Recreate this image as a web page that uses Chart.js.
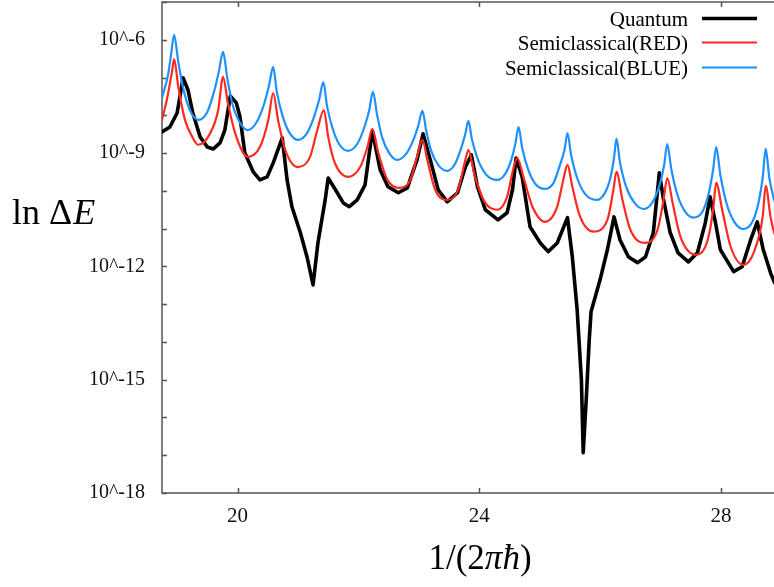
<!DOCTYPE html>
<html lang="en">
<head>
<meta charset="UTF-8">
<title>Energy splitting</title>
<script src="https://cdn.jsdelivr.net/npm/chart.js"></script>
<style>
    html, body { margin: 0; padding: 0; background: #fff; overflow: hidden; }
    canvas { display: block; }
</style>
</head>
<body>
<canvas id="chart" width="800" height="587"></canvas>
<script>
// x = 1/(2 pi hbar), y = log10 of the splitting
const quantumX = [18.75, 18.88, 19.00, 19.10, 19.18, 19.26, 19.38, 19.50, 19.60, 19.71, 19.79, 19.88, 19.98, 20.04, 20.12, 20.26, 20.37, 20.49, 20.59, 20.74,
    20.82, 20.90, 21.04, 21.15, 21.25, 21.33, 21.45, 21.50, 21.62, 21.75, 21.85, 21.98, 22.11, 22.23, 22.36, 22.49, 22.66, 22.81, 22.97, 23.07,
    23.19, 23.32, 23.47, 23.64, 23.77, 23.87, 23.97, 24.10, 24.31, 24.46, 24.55, 24.61, 24.71, 24.84, 25.01, 25.14, 25.29, 25.46, 25.54, 25.62,
    25.69, 25.72, 25.77, 25.82, 25.85, 26.00, 26.12, 26.23, 26.33, 26.47, 26.62, 26.75, 26.88, 26.98, 27.05, 27.16, 27.29, 27.46, 27.61, 27.74,
    27.82, 27.91, 27.99, 28.21, 28.35, 28.49, 28.60, 28.70, 28.82, 28.88, 28.98];
const quantumY = [-8.44, -8.31, -7.94, -7.01, -7.33, -7.94, -8.57, -8.84, -8.89, -8.73, -8.39, -7.49, -7.67, -8.04, -8.99, -9.50, -9.71, -9.63, -9.26, -8.60,
    -9.71, -10.42, -11.11, -11.75, -12.49, -11.38, -10.24, -9.66, -9.97, -10.32, -10.42, -10.24, -9.84, -8.41, -9.44, -9.89, -10.05, -9.92, -9.18, -8.49,
    -9.18, -9.97, -10.29, -10.05, -9.37, -9.05, -9.89, -10.50, -10.77, -10.58, -9.97, -9.13, -9.63, -10.95, -11.38, -11.61, -11.38, -10.71, -11.75, -13.15,
    -15.00, -16.93, -15.53, -13.94, -13.20, -12.35, -11.56, -10.69, -11.30, -11.75, -11.90, -11.75, -11.11, -9.52, -10.24, -11.11, -11.64, -11.88, -11.64, -10.85,
    -10.16, -10.85, -11.56, -12.14, -12.01, -11.30, -10.82, -11.56, -12.17, -12.41, -12.67];

const redX = [18.75, 18.83, 18.92, 18.95, 19.02, 19.13, 19.25, 19.35, 19.55, 19.68, 19.76, 19.84, 19.96, 20.17, 20.37, 20.51, 20.59, 20.67, 20.79, 21.00,
    21.20, 21.32, 21.43, 21.50, 21.61, 21.83, 22.03, 22.15, 22.23, 22.33, 22.48, 22.67, 22.86, 22.97, 23.06, 23.14, 23.27, 23.47, 23.65, 23.77,
    23.82, 23.93, 24.10, 24.30, 24.46, 24.56, 24.63, 24.73, 24.88, 25.09, 25.29, 25.39, 25.46, 25.54, 25.67, 25.89, 26.12, 26.22, 26.27, 26.37,
    26.50, 26.75, 26.95, 27.05, 27.11, 27.20, 27.33, 27.58, 27.78, 27.87, 27.92, 28.02, 28.16, 28.37, 28.54, 28.69, 28.74, 28.82, 28.88, 28.98];
const redY = [-8.12, -7.59, -6.80, -6.51, -7.25, -8.12, -8.57, -8.78, -8.47, -7.86, -6.98, -7.67, -8.47, -9.10, -8.84, -8.12, -7.41, -8.12, -8.92, -9.37,
    -9.10, -8.39, -7.86, -8.57, -9.26, -9.63, -9.37, -8.84, -8.36, -9.00, -9.71, -9.92, -9.71, -9.10, -8.65, -9.18, -9.97, -10.24, -9.97, -9.18,
    -8.92, -9.63, -10.32, -10.50, -10.16, -9.44, -9.13, -9.63, -10.42, -10.82, -10.42, -9.71, -9.31, -9.89, -10.69, -11.08, -10.77, -9.97, -9.50, -10.24,
    -11.03, -11.38, -11.03, -10.24, -9.66, -10.32, -11.22, -11.69, -11.30, -10.50, -9.79, -10.50, -11.48, -11.96, -11.64, -10.69, -9.87, -10.69, -11.11, -11.51];

const blueX = [18.75, 18.85, 18.90, 18.95, 19.02, 19.10, 19.21, 19.35, 19.50, 19.61, 19.69, 19.76, 19.83, 19.91, 20.03, 20.17, 20.32, 20.44, 20.52, 20.59,
    20.65, 20.74, 20.85, 21.00, 21.15, 21.27, 21.35, 21.42, 21.48, 21.57, 21.68, 21.83, 21.98, 22.10, 22.18, 22.24, 22.31, 22.39, 22.51, 22.64,
    22.79, 22.91, 22.99, 23.06, 23.12, 23.20, 23.32, 23.47, 23.59, 23.69, 23.77, 23.82, 23.88, 23.98, 24.12, 24.30, 24.43, 24.53, 24.60, 24.65,
    24.71, 24.81, 24.93, 25.09, 25.23, 25.32, 25.41, 25.46, 25.52, 25.62, 25.75, 25.94, 26.07, 26.17, 26.23, 26.27, 26.33, 26.43, 26.57, 26.72,
    26.86, 26.98, 27.06, 27.11, 27.18, 27.28, 27.41, 27.54, 27.69, 27.79, 27.87, 27.92, 27.99, 28.09, 28.22, 28.37, 28.52, 28.62, 28.69, 28.74,
    28.80, 28.88, 28.98];
const blueY = [-7.54, -6.93, -6.40, -5.87, -6.59, -7.28, -7.86, -8.12, -7.91, -7.38, -6.85, -6.32, -7.01, -7.67, -8.17, -8.39, -8.17, -7.70, -7.22, -6.72,
    -7.38, -7.99, -8.44, -8.65, -8.47, -8.02, -7.59, -7.12, -7.75, -8.33, -8.76, -8.94, -8.76, -8.31, -7.86, -7.38, -7.99, -8.57, -9.00, -9.18,
    -9.02, -8.65, -8.28, -7.88, -8.39, -8.92, -9.31, -9.47, -9.31, -8.92, -8.49, -8.15, -8.65, -9.18, -9.58, -9.71, -9.55, -9.18, -8.73, -8.31,
    -8.86, -9.44, -9.82, -9.95, -9.79, -9.39, -8.92, -8.47, -9.05, -9.66, -10.08, -10.24, -10.08, -9.66, -9.13, -8.62, -9.26, -9.89, -10.32, -10.48,
    -10.32, -9.87, -9.31, -8.76, -9.44, -10.11, -10.56, -10.71, -10.56, -10.11, -9.44, -8.84, -9.58, -10.32, -10.82, -11.01, -10.82, -10.32, -9.66, -8.89,
    -9.66, -10.24, -10.64];

const xTicks = [20, 24, 28];
const seriesNames = ['Quantum', 'Semiclassical(RED)', 'Semiclassical(BLUE)'];
const seriesColors = ['#000000', '#ff2a1f', '#1e90ff'];
const seriesWidths = [3.6, 2.2, 2.2];

const serif = '"Liberation Serif", "DejaVu Serif", serif';

function pts(xs, ys) {
    return xs.map((x, i) => ({x: x, y: ys[i]}));
}

// frame with inward ticks on all four sides, legend and axis titles
const framePlugin = {
    id: 'frame',
    beforeDatasetsDraw(chart) {
        const ctx = chart.ctx;
        const a = chart.chartArea;
        const xs = chart.scales.x, ys = chart.scales.y;
        ctx.save();
        ctx.strokeStyle = '#555';
        ctx.lineWidth = 1.5;
        ctx.strokeRect(a.left, a.top, a.right - a.left, a.bottom - a.top);
        ctx.beginPath();
        xs.ticks.forEach(t => {
            const px = Math.round(xs.getPixelForValue(t.value)) + 0.5;
            ctx.moveTo(px, a.bottom); ctx.lineTo(px, a.bottom - 5);
            ctx.moveTo(px, a.top); ctx.lineTo(px, a.top + 5);
        });
        ys.ticks.forEach(t => {
            const py = Math.round(ys.getPixelForValue(t.value)) + 0.5;
            ctx.moveTo(a.left, py); ctx.lineTo(a.left + 5, py);
            ctx.moveTo(a.right, py); ctx.lineTo(a.right - 5, py);
        });
        ctx.stroke();
        ctx.restore();
    },
    afterDraw(chart) {
        const ctx = chart.ctx;
        ctx.save();
        ctx.fillStyle = '#000';

        // legend: text right aligned, sample line on the right
        ctx.font = '21px ' + serif;
        ctx.textAlign = 'right';
        ctx.textBaseline = 'alphabetic';
        const rows = [18.5, 42.5, 67.5];
        seriesNames.forEach((name, i) => {
            ctx.fillText(name, 688, rows[i] + 7.5);
            ctx.strokeStyle = seriesColors[i];
            ctx.lineWidth = seriesWidths[i];
            ctx.beginPath();
            ctx.moveTo(702, rows[i]);
            ctx.lineTo(757, rows[i]);
            ctx.stroke();
        });

        // y title, horizontal
        ctx.textAlign = 'left';
        ctx.font = '36px ' + serif;
        ctx.fillText('ln \u0394', 12, 224);
        const w1 = ctx.measureText('ln \u0394').width;
        ctx.font = 'italic 36px ' + serif;
        ctx.fillText('E', 12 + w1 + 1, 224);

        // x title
        const parts = [['1/(2', ''], ['\u03c0\u0127', 'italic '], [')', '']];
        let total = 0;
        parts.forEach(p => { ctx.font = p[1] + '35px ' + serif; total += ctx.measureText(p[0]).width; });
        let cx = 480 - total / 2;
        parts.forEach(p => {
            ctx.font = p[1] + '35px ' + serif;
            ctx.fillText(p[0], cx, 569);
            cx += ctx.measureText(p[0]).width;
        });
        ctx.restore();
    }
};

new Chart(document.getElementById('chart'), {
    type: 'line',
    data: {
        datasets: [
            {label: seriesNames[0], data: pts(quantumX, quantumY), borderColor: seriesColors[0], borderWidth: seriesWidths[0], order: 3},
            {label: seriesNames[1], data: pts(redX, redY), borderColor: seriesColors[1], borderWidth: seriesWidths[1], order: 2, cubicInterpolationMode: 'monotone'},
            {label: seriesNames[2], data: pts(blueX, blueY), borderColor: seriesColors[2], borderWidth: seriesWidths[2], order: 1, cubicInterpolationMode: 'monotone'}
        ]
    },
    options: {
        responsive: false,
        animation: false,
        layout: { padding: { top: 2, right: 21, left: 0, bottom: 0 } },
        elements: {
            point: { radius: 0 },
            line: { tension: 0, borderJoinStyle: 'round', borderCapStyle: 'round' }
        },
        plugins: {
            legend: { display: false },
            tooltip: { enabled: false }
        },
        scales: {
            x: {
                type: 'linear',
                min: 18.75,
                max: 28.96,
                grid: { display: false, drawTicks: false },
                border: { display: false },
                afterBuildTicks: scale => { scale.ticks = xTicks.map(v => ({value: v})); },
                afterFit: scale => { scale.height = 94; scale.paddingLeft = 0; scale.paddingRight = 0; },
                ticks: {
                    padding: 11,
                    maxRotation: 0,
                    autoSkip: false,
                    color: '#111',
                    font: { family: serif, size: 21 }
                }
            },
            y: {
                type: 'linear',
                min: -18,
                max: -5,
                grid: { display: false, drawTicks: false },
                border: { display: false },
                afterFit: scale => { scale.width = 162; scale.paddingTop = 0; scale.paddingBottom = 0; },
                ticks: {
                    stepSize: 1,
                    padding: 17,
                    autoSkip: false,
                    color: '#111',
                    font: { family: serif, size: 20 },
                    callback: v => (v % 3 === 0 ? '10^' + v : '')
                }
            }
        }
    },
    plugins: [framePlugin]
});
</script>
</body>
</html>
